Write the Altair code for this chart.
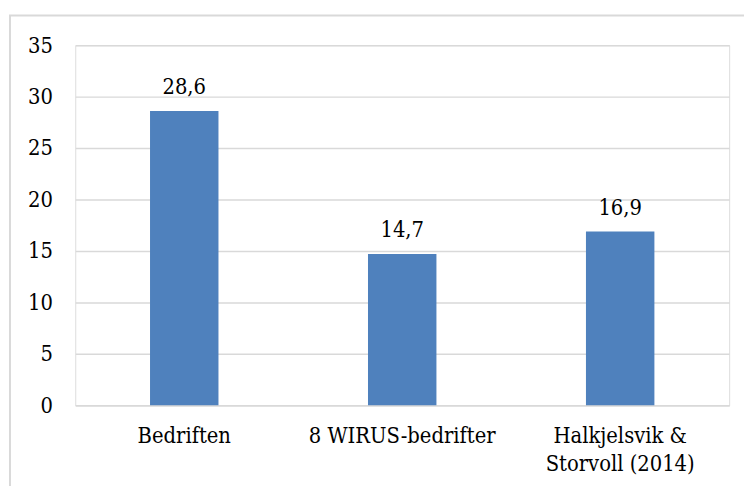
import altair as alt
import pandas as pd

categories = ["Bedriften", "8 WIRUS-bedrifter", "Halkjelsvik &|Storvoll (2014)"]
values = [28.6, 14.7, 16.9]
labels = ["28,6", "14,7", "16,9"]

df = pd.DataFrame({"cat": categories, "val": values, "lab": labels})

FONT = "DejaVu Serif Condensed, DejaVu Serif"
FS = 22

x_enc = alt.X(
    "cat:N", sort=None, title=None,
    scale=alt.Scale(paddingInner=0.686, paddingOuter=0.343),
    axis=alt.Axis(labelAngle=0, labelExpr="split(datum.label, '|')",
                  labelLineHeight=28, labelPadding=21, ticks=False, labelLimit=0,
                  domainColor="#d9d9d9", domainWidth=1.5, labelFontSize=FS,
                  labelFont=FONT, labelColor="#000000", labelBaseline="top"),
)
y_enc = alt.Y(
    "val:Q", title=None,
    scale=alt.Scale(domain=[0, 35], nice=False),
    axis=alt.Axis(values=[0, 5, 10, 15, 20, 25, 30, 35], domain=False, ticks=False,
                  gridColor="#d9d9d9", gridWidth=1.5, labelPadding=23,
                  labelFontSize=FS, labelFont=FONT, labelColor="#000000"),
)

bars = alt.Chart(df).mark_bar(color="#4F81BD").encode(x=x_enc, y=y_enc)
text = alt.Chart(df).mark_text(
    baseline="alphabetic", dy=-17, fontSize=FS, font=FONT, color="#000000"
).encode(x=alt.X("cat:N", sort=None), y="val:Q", text="lab:N")

border = alt.Chart(pd.DataFrame({"a": [0]})).mark_rect(
    fill="transparent", stroke="#d9d9d9", strokeWidth=2
).encode(x=alt.value(-66), x2=alt.value(720), y=alt.value(-30), y2=alt.value(500))

chart = alt.layer(border, bars, text).properties(
    width=661, height=364,
    autosize=alt.AutoSizeParams(type="none"),
    padding={"left": 68, "top": 35, "right": 15, "bottom": 79},
).configure_view(stroke=None).configure(background="white")

chart.save("out.html", embed_options={"renderer": "svg", "actions": False})
